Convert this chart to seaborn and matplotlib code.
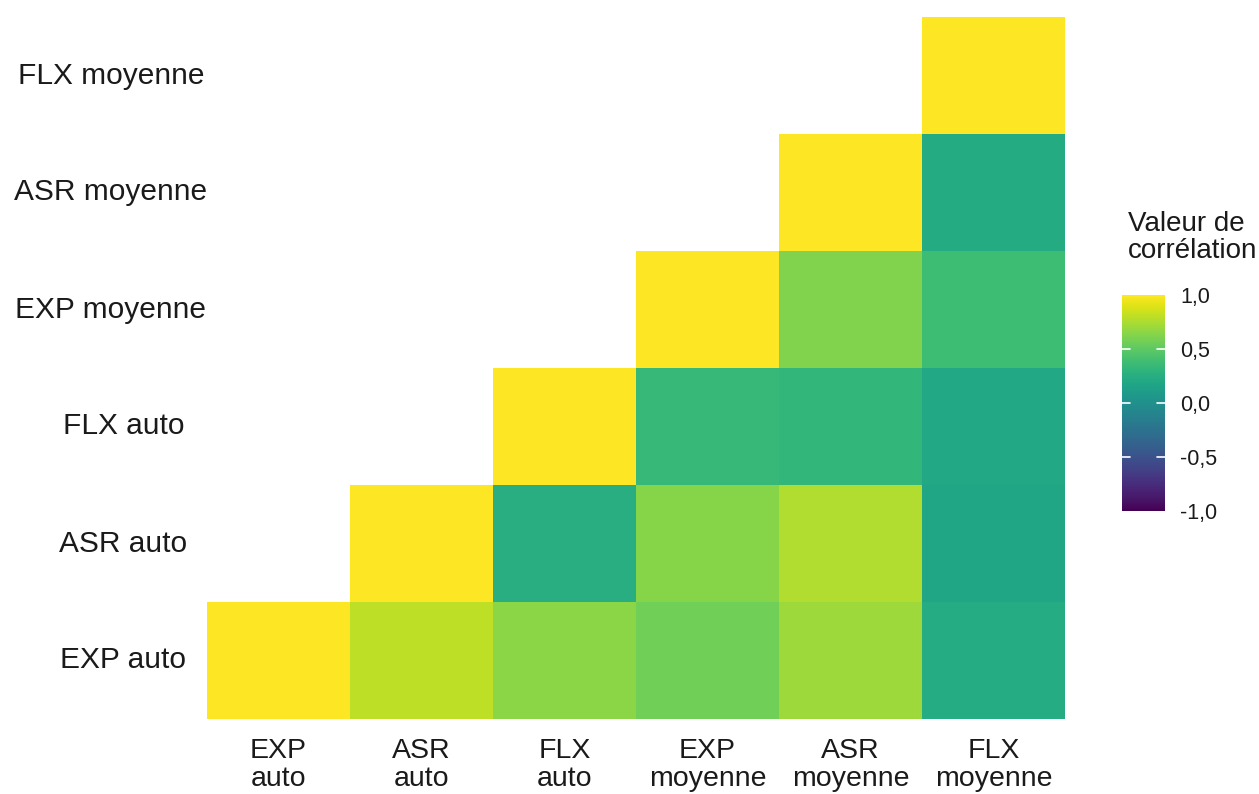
import numpy as np
import pandas as pd
import matplotlib
matplotlib.use("Agg")
import matplotlib.pyplot as plt
import matplotlib.transforms as mtransforms
import seaborn as sns

sns.set_theme(style="white")
plt.rcParams["font.family"] = ["Liberation Sans", "DejaVu Sans"]

# Variables in axis order (x: left -> right, y: bottom -> top)
variables = ["EXP auto", "ASR auto", "FLX auto", "EXP moyenne", "ASR moyenne", "FLX moyenne"]
x_labels = ["EXP\nauto", "ASR\nauto", "FLX\nauto", "EXP\nmoyenne", "ASR\nmoyenne", "FLX\nmoyenne"]

# Upper-triangle correlations, one list per variable (starting at its diagonal)
corr_exp_auto = [1.00, 0.80, 0.65, 0.57, 0.71, 0.23]
corr_asr_auto = [1.00, 0.25, 0.64, 0.76, 0.18]
corr_flx_auto = [1.00, 0.34, 0.32, 0.20]
corr_exp_moy = [1.00, 0.62, 0.37]
corr_asr_moy = [1.00, 0.22]
corr_flx_moy = [1.00]

cbar_ticks = [-1, -0.5, 0, 0.5, 1]
cbar_labels = ["-1,0", "-0,5", "0,0", "0,5", "1,0"]

rows = [corr_exp_auto, corr_asr_auto, corr_flx_auto, corr_exp_moy, corr_asr_moy, corr_flx_moy]
n = len(variables)
mat = np.full((n, n), np.nan)
for i, r in enumerate(rows):
    mat[i, i:] = r
    mat[i:, i] = r

# Top row of the plot is the last variable; keep only the upper triangle
df = pd.DataFrame(mat[::-1], index=variables[::-1], columns=variables)
mask = np.tril(np.ones((n, n), dtype=bool), k=-1)[::-1]

fig = plt.figure(figsize=(12.59, 7.94), dpi=100)
ax = fig.add_axes([207 / 1259, 1 - 719 / 794, 858 / 1259, 702 / 794])
cax = fig.add_axes([1122 / 1259, 1 - 511 / 794, 43 / 1259, 216 / 794])

sns.heatmap(df, mask=mask, cmap="viridis", vmin=-1, vmax=1, ax=ax, cbar_ax=cax,
            cbar_kws={"ticks": cbar_ticks}, linewidths=0, square=False)

ax.set_xlabel("")
ax.set_ylabel("")
ax.set_xticks(np.arange(n) + 0.5)
ax.set_xticklabels(x_labels, rotation=0, fontsize=20.5, color="#1a1a1a",
                   linespacing=1.08, va="top")
ax.tick_params(axis="x", length=0, pad=14)
ax.tick_params(axis="y", length=0, labelleft=False)
for s in ax.spines.values():
    s.set_visible(False)

# Row labels anchored at a fixed point, justified at 0.69 of their width
fig.canvas.draw()
renderer = fig.canvas.get_renderer()
ax_bb = ax.get_window_extent(renderer)
anchor_px = ax_bb.x0 - 60
hjust = 0.69
trans = mtransforms.blended_transform_factory(ax.transAxes, ax.transData)
for k, lab in enumerate(df.index):
    t = ax.text(0, k + 0.5, lab, ha="left", va="center", fontsize=21.5,
                color="#1a1a1a", transform=trans)
    w = t.get_window_extent(renderer).width
    t.set_x((anchor_px - hjust * w - ax_bb.x0) / ax_bb.width)

# Colorbar styling: no outline, short white marks on both edges
cbar = ax.collections[0].colorbar
cbar.outline.set_visible(False)
cbar.set_ticks(cbar_ticks)
cbar.set_ticklabels(cbar_labels)
cax.tick_params(axis="y", length=0, labelsize=15.5, labelcolor="#1a1a1a", pad=11,
                left=False, right=True, labelright=True)
for v in cbar_ticks[1:-1]:
    cax.plot([0, 0.19], [v, v], color="white", lw=1.2, transform=cax.get_yaxis_transform(),
             zorder=5, clip_on=False)
    cax.plot([0.81, 1.0], [v, v], color="white", lw=1.2, transform=cax.get_yaxis_transform(),
             zorder=5, clip_on=False)

fig.text(1128 / 1259, 1 - 211 / 794, "Valeur de\ncorrélation", ha="left", va="top",
         fontsize=20, color="#1a1a1a", linespacing=1.05)

fig.savefig("out.png", dpi=100)
